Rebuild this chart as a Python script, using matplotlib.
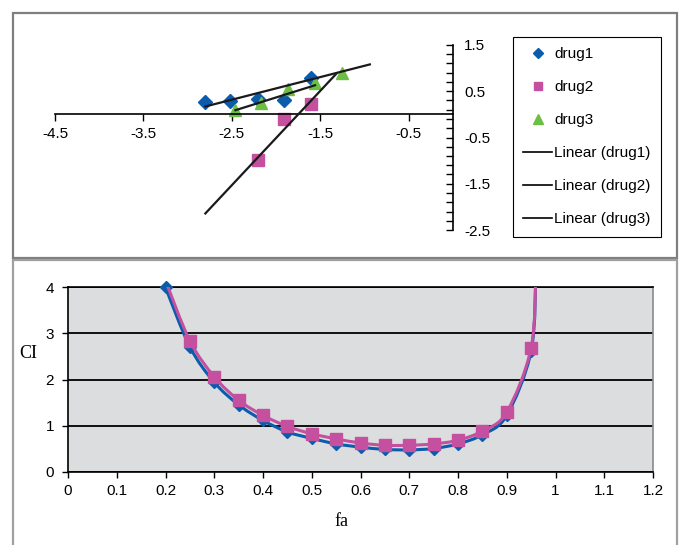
import numpy as np
import matplotlib
matplotlib.use('Agg')
import matplotlib.pyplot as plt
from matplotlib.path import Path
from matplotlib.patches import PathPatch, Rectangle
from matplotlib.lines import Line2D
from matplotlib.ticker import FixedLocator

plt.rcParams['font.family'] = ['Liberation Sans', 'DejaVu Sans']
plt.rcParams['font.size'] = 11
plt.rcParams['axes.unicode_minus'] = False

# ---- top panel: median effect plot ----
drug1_x = [-2.80, -2.52, -2.21, -1.91, -1.60]
drug1_y = [0.27, 0.29, 0.34, 0.32, 0.78]
drug2_x = [-2.21, -1.91, -1.61]
drug2_y = [-0.99, -0.09, 0.22]
drug3_x = [-2.46, -2.17, -1.87, -1.56, -1.26]
drug3_y = [0.10, 0.25, 0.54, 0.68, 0.90]

# trend lines as drawn (start x, end x, slope, intercept)
trend_names = ['Linear (drug1)', 'Linear (drug2)', 'Linear (drug3)']
trend_x0 = [-2.80, -2.80, -2.46]
trend_x1 = [-0.94, -1.32, -1.56]
trend_slope = [0.489, 2.04, 0.60]
trend_icpt = [1.54, 3.57, 1.566]

top_xticks = [-4.5, -3.5, -2.5, -1.5, -0.5]
top_yticks = [-2.5, -1.5, -0.5, 0.5, 1.5]

# ---- bottom panel: CI vs fa ----
fa = [0.2, 0.25, 0.3, 0.35, 0.4, 0.45, 0.5, 0.55, 0.6, 0.65, 0.7, 0.75,
      0.8, 0.85, 0.9, 0.95, 0.96]
ci_a = [4.0, 2.71, 1.94, 1.45, 1.11, 0.86, 0.72, 0.60, 0.53, 0.48, 0.47,
        0.50, 0.60, 0.80, 1.22, 2.62, 4.35]
ci_b = [4.15, 2.84, 2.06, 1.55, 1.22, 0.98, 0.82, 0.71, 0.62, 0.57, 0.57,
        0.60, 0.68, 0.88, 1.29, 2.69, 4.4]
bot_xticks = [0, 0.1, 0.2, 0.3, 0.4, 0.5, 0.6, 0.7, 0.8, 0.9, 1.0, 1.1, 1.2]
bot_xlabels = ['0', '0.1', '0.2', '0.3', '0.4', '0.5', '0.6', '0.7', '0.8',
               '0.9', '1', '1.1', '1.2']
bot_yticks = [0, 1, 2, 3, 4]

blue = '#0B5CAD'
pink = '#C4509F'
green = '#6DBE45'

W, H = 680, 545
fig = plt.figure(figsize=(W / 100, H / 100), dpi=100)


def fx(px):
    return px / W


def fy(py):
    return 1 - py / H


# frames around the two panels
fig.add_artist(Rectangle((fx(13), fy(258)), fx(664), 245 / H, transform=fig.transFigure,
                         fill=False, ec='#7f7f7f', lw=1.6))
fig.add_artist(Rectangle((fx(13), fy(560)), fx(664), 300 / H, transform=fig.transFigure,
                         fill=False, ec='#a0a0a0', lw=1.6))

# top chart
ax1 = fig.add_axes([fx(55), fy(230), 398 / W, 185 / H])
ax1.set_xlim(-4.5, 0)
ax1.set_ylim(-2.5, 1.5)
ax1.patch.set_alpha(0)
ax1.spines['left'].set_visible(False)
ax1.spines['top'].set_visible(False)
ax1.spines['right'].set_position(('data', 0))
ax1.spines['bottom'].set_position(('data', 0))
for s in ('right', 'bottom'):
    ax1.spines[s].set_linewidth(1.2)
ax1.yaxis.tick_right()
ax1.yaxis.set_major_locator(FixedLocator(top_yticks))
ax1.yaxis.set_minor_locator(FixedLocator(np.arange(-2.5, 1.51, 0.2)))
ax1.set_yticklabels([str(v) for v in top_yticks])
ax1.tick_params(axis='y', which='both', direction='in', length=5, width=1, pad=8)
ax1.set_xticks(top_xticks)
ax1.set_xticklabels([str(v) for v in top_xticks])
ax1.tick_params(axis='x', direction='out', length=5, width=1, pad=4)

for i in range(3):
    xs = np.array([trend_x0[i], trend_x1[i]])
    ax1.plot(xs, trend_slope[i] * xs + trend_icpt[i], color='#1a1a1a', lw=1.6, zorder=3)
ax1.plot(drug1_x, drug1_y, ls='none', marker='D', ms=7, color=blue, zorder=2)
ax1.plot(drug2_x, drug2_y, ls='none', marker='s', ms=8, color=pink, zorder=2)
ax1.plot(drug3_x, drug3_y, ls='none', marker='^', ms=8.5, color=green, zorder=2)

handles = [Line2D([], [], ls='none', marker='D', ms=5, color=blue),
           Line2D([], [], ls='none', marker='s', ms=6, color=pink),
           Line2D([], [], ls='none', marker='^', ms=6.5, color=green)]
handles += [Line2D([], [], color='black', lw=1.2) for _ in trend_names]
leg = fig.legend(handles, ['drug1', 'drug2', 'drug3'] + trend_names,
                 loc='upper left', bbox_to_anchor=(fx(513), fy(37)),
                 fancybox=False, edgecolor='black', framealpha=1,
                 handlelength=1.9, handletextpad=0.12, labelspacing=1.24,
                 borderpad=0.68, borderaxespad=0)
leg.get_frame().set_linewidth(0.8)


# bottom chart
def smooth_path(x, y):
    pts = np.column_stack([x, y])
    verts = [pts[0]]
    codes = [Path.MOVETO]
    n = len(pts)
    for i in range(n - 1):
        p0 = pts[i - 1] if i > 0 else pts[i]
        p1, p2 = pts[i], pts[i + 1]
        p3 = pts[i + 2] if i + 2 < n else pts[i + 1]
        verts += [p1 + (p2 - p0) / 6, p2 - (p3 - p1) / 6, p2]
        codes += [Path.CURVE4] * 3
    return Path(verts, codes)


ax2 = fig.add_axes([fx(68), fy(471.5), 585 / W, 184 / H])
ax2.set_facecolor('#DCDDDF')
ax2.set_xlim(0, 1.2)
ax2.set_ylim(0, 4)
ax2.set_xticks(bot_xticks)
ax2.set_xticklabels(bot_xlabels)
ax2.set_yticks(bot_yticks)
ax2.set_yticklabels([str(v) for v in bot_yticks])
ax2.tick_params(direction='out', length=4, width=1, pad=5)
ax2.tick_params(axis='y', pad=6)
ax2.grid(axis='y', color='black', lw=1.3)
ax2.set_axisbelow(True)
ax2.spines['right'].set_color('#8a8a8a')
ax2.spines['top'].set_color('black')
for s in ax2.spines.values():
    s.set_linewidth(1.2)

fa_arr = np.array(fa)
a_arr = np.array(ci_a)
b_arr = np.array(ci_b)
in_a = a_arr <= 4
in_b = b_arr <= 4
ax2.add_patch(PathPatch(smooth_path(fa, ci_a), fill=False, ec=blue, lw=2.2, zorder=3))
ax2.plot(fa_arr[in_a], a_arr[in_a], ls='none', marker='D', ms=6, color=blue,
         zorder=4, clip_on=False)
ax2.add_patch(PathPatch(smooth_path(fa, ci_b), fill=False, ec=pink, lw=2.2, zorder=5))
ax2.plot(fa_arr[in_b], b_arr[in_b], ls='none', marker='s', ms=8, color=pink,
         zorder=6, clip_on=False)

fig.text(fx(28), fy(353), 'CI', family='Liberation Serif', size=13, ha='center', va='center')
fig.text(fx(341), fy(521), 'fa', family='Liberation Serif', size=13, ha='center', va='center')

fig.savefig('out.png', dpi=100)
